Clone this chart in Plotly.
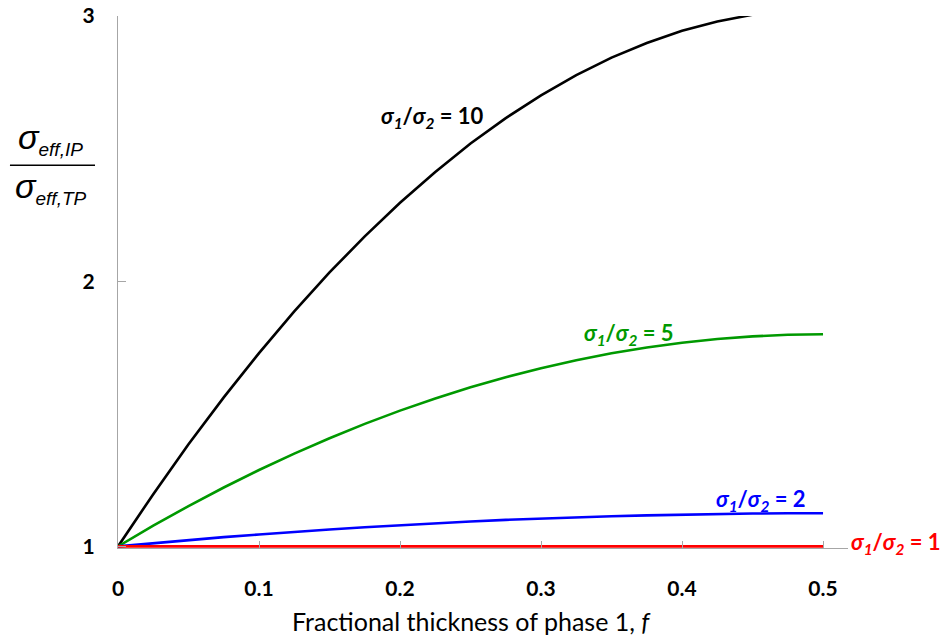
import plotly.graph_objects as go

f_vals = [0, 0.025, 0.05, 0.075, 0.1, 0.125, 0.15, 0.175, 0.2, 0.225, 0.25,
          0.275, 0.3, 0.325, 0.35, 0.375, 0.4, 0.425, 0.45, 0.475, 0.5]
ratio_10 = [1.0, 1.197, 1.385, 1.562, 1.729, 1.886, 2.033, 2.169, 2.296, 2.412, 2.519,
            2.615, 2.701, 2.777, 2.843, 2.898, 2.944, 2.979, 3.005, 3.020, 3.025]
ratio_5 = [1.0, 1.078, 1.152, 1.222, 1.288, 1.350, 1.408, 1.462, 1.512, 1.558, 1.600,
           1.638, 1.672, 1.702, 1.728, 1.750, 1.768, 1.782, 1.792, 1.798, 1.800]
ratio_2 = [1.0, 1.012, 1.024, 1.035, 1.045, 1.055, 1.064, 1.072, 1.080, 1.087, 1.094,
           1.100, 1.105, 1.110, 1.114, 1.117, 1.120, 1.122, 1.124, 1.125, 1.125]
ratio_1 = [1.0] * 21

x_ticks = [0, 0.1, 0.2, 0.3, 0.4, 0.5]
x_tick_text = ["0", "0.1", "0.2", "0.3", "0.4", "0.5"]
y_ticks = [1, 2, 3]
y_tick_text = ["1", "2", "3"]

# name, values, colour, label position (paper coords)
series = [
    ("10", ratio_10, "#000000", 0.4315, 0.8098),
    ("5", ratio_5, "#009900", 0.6995, 0.4030),
    ("2", ratio_2, "#0000FF", 0.8808, 0.0904),
    ("1", ratio_1, "#FF0000", 1.0658, 0.0094),
]

FONT = "Lato"
fig = go.Figure()
for name, ys, color, lx, ly in series:
    fig.add_trace(go.Scatter(x=f_vals, y=ys, mode="lines",
                             line=dict(color=color, width=2.6),
                             showlegend=False, hoverinfo="skip"))
    fig.add_annotation(x=lx, y=ly, xref="paper", yref="paper", showarrow=False,
                       xanchor="center", yanchor="middle",
                       text=f"<b><i>σ<sub>1</sub></i>/<i>σ<sub>2</sub></i> = {name}</b>",
                       font=dict(family=FONT, size=22, color=color))

axis_gray = "#a6a6a6"
fig.update_xaxes(range=[0, 0.5177], tickvals=x_ticks, ticktext=x_tick_text,
                 showgrid=False, zeroline=False, showline=True, linecolor=axis_gray,
                 linewidth=1, ticks="inside", ticklen=7, tickcolor=axis_gray,
                 tickfont=dict(family=FONT, size=21, color="#000000", weight="bold"),
                 ticklabelstandoff=22, automargin=False)
fig.update_yaxes(range=[0.994, 3.0], tickvals=y_ticks, ticktext=y_tick_text,
                 showgrid=False, zeroline=False, showline=True, linecolor=axis_gray,
                 linewidth=1, ticks="inside", ticklen=8, tickcolor=axis_gray,
                 tickfont=dict(family=FONT, size=21, color="#000000", weight="bold"),
                 ticklabelstandoff=18, automargin=False)

# x-axis title
fig.add_annotation(x=0.4836, y=-0.1375, xref="paper", yref="paper", showarrow=False,
                   xanchor="center", yanchor="middle",
                   text="Fractional thickness of phase 1, <i>f</i>",
                   font=dict(family=FONT, size=25, color="#000000"))

# y-axis label as a fraction
fig.add_annotation(x=-0.092, y=0.768, xref="paper", yref="paper", showarrow=False,
                   xanchor="center", yanchor="middle",
                   text="<i>σ<sub><span style='font-size:19px'>eff,IP</span></sub></i>",
                   font=dict(family="Liberation Sans", size=34, color="#000000"))
fig.add_annotation(x=-0.092, y=0.676, xref="paper", yref="paper", showarrow=False,
                   xanchor="center", yanchor="middle",
                   text="<i>σ<sub><span style='font-size:19px'>eff,TP</span></sub></i>",
                   font=dict(family="Liberation Sans", size=34, color="#000000"))
fig.add_shape(type="line", xref="paper", yref="paper", x0=-0.148, x1=-0.0315,
              y0=0.7194, y1=0.7194, line=dict(color="#000000", width=1.5))

fig.update_layout(width=948, height=641, plot_bgcolor="white", paper_bgcolor="white",
                  margin=dict(l=118, r=100, t=16, b=93))
fig.write_html("out.html")
